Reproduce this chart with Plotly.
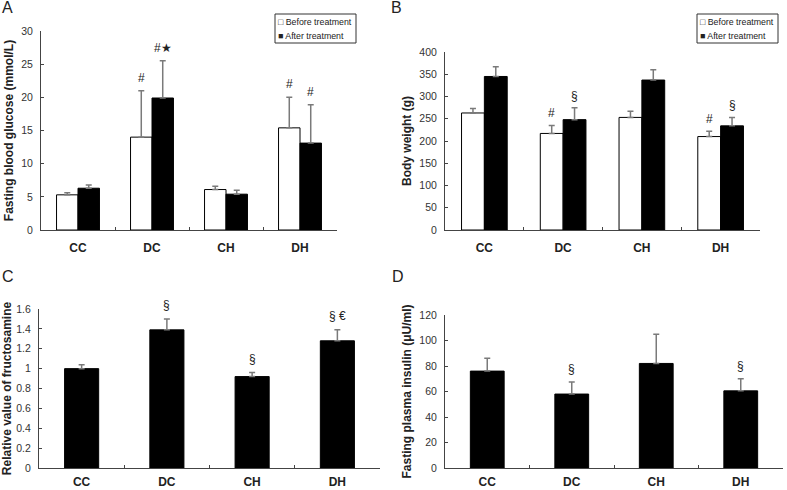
import plotly.graph_objects as go

categories = ["CC", "DC", "CH", "DH"]
legend_labels = ["Before treatment", "After treatment"]

# Panel A: fasting blood glucose (mmol/L)
glucose_before = [5.3, 14.0, 6.1, 15.4]
glucose_before_err = [0.3, 7.0, 0.5, 4.6]
glucose_after = [6.3, 19.9, 5.4, 13.1]
glucose_after_err = [0.5, 5.6, 0.6, 5.8]
glucose_marks_before = ["", "#", "", "#"]
glucose_marks_after = ["", "#★", "", "#"]

# Panel B: body weight (g)
weight_before = [263, 217, 253, 210]
weight_before_err = [10, 18, 14, 12]
weight_after = [345, 248, 337, 234]
weight_after_err = [22, 27, 23, 19]
weight_marks_before = ["", "#", "", "#"]
weight_marks_after = ["", "§", "", "§"]

# Panel C: relative value of fructosamine
fructosamine = [1.00, 1.39, 0.92, 1.28]
fructosamine_err = [0.04, 0.11, 0.04, 0.11]
fructosamine_marks = ["", "§", "§", "§ €"]

# Panel D: fasting plasma insulin (µU/ml)
insulin = [76, 58, 82, 60.5]
insulin_err = [10, 9.5, 23, 9.5]
insulin_marks = ["", "§", "", "§"]

FONT = "Liberation Sans, Arial, sans-serif"
W, H = 787, 490
ERRC = "#7a7a7a"
AXC = "#444444"


def px_x(p):
    return p / W


def px_y(p):
    return 1 - p / H


fig = go.Figure()


def bar(x, y, err, color, name, xa, ya, width=None):
    kw = {}
    if width is not None:
        kw = dict(width=width, offset=-width / 2)
    return go.Bar(
        x=x, y=y, name=name, xaxis=xa, yaxis=ya,
        marker=dict(color=color, line=dict(color="black", width=1)),
        error_y=dict(type="data", array=err, arrayminus=[0] * len(err), symmetric=False,
                     color=ERRC, thickness=1.5, width=3),
        showlegend=False, **kw)


fig.add_trace(bar(categories, glucose_before, glucose_before_err, "white", legend_labels[0], "x", "y"))
fig.add_trace(bar(categories, glucose_after, glucose_after_err, "black", legend_labels[1], "x", "y"))
fig.add_trace(bar(categories, weight_before, weight_before_err, "white", legend_labels[0], "x2", "y2"))
fig.add_trace(bar(categories, weight_after, weight_after_err, "black", legend_labels[1], "x2", "y2"))
fig.add_trace(bar(categories, fructosamine, fructosamine_err, "black", "Fructosamine", "x3", "y3", width=0.4))
fig.add_trace(bar(categories, insulin, insulin_err, "black", "Insulin", "x4", "y4", width=0.4))

annotations = []
shapes = []
BARGAP = 0.42
half = (1 - BARGAP) / 4


def add_marks(marks, vals, errs, offset, xref, yref, shift=13):
    for i, (m, v, e) in enumerate(zip(marks, vals, errs)):
        if m:
            annotations.append(dict(x=i + offset, y=v + e, xref=xref, yref=yref, text=m,
                                    showarrow=False, yshift=shift, yanchor="middle",
                                    font=dict(family=FONT, size=12, color="#222")))


add_marks(glucose_marks_before, glucose_before, glucose_before_err, -half, "x", "y")
add_marks(glucose_marks_after, glucose_after, glucose_after_err, half, "x", "y")
add_marks(weight_marks_before, weight_before, weight_before_err, -half, "x2", "y2", 12)
add_marks(weight_marks_after, weight_after, weight_after_err, half, "x2", "y2", 12)
add_marks(fructosamine_marks, fructosamine, fructosamine_err, 0, "x3", "y3", 14)
add_marks(insulin_marks, insulin, insulin_err, 0, "x4", "y4", 13)

for txt, xp, yp in [("A", 0, 8), ("B", 389, 8), ("C", 0, 276), ("D", 390, 276)]:
    annotations.append(dict(x=px_x(xp), y=px_y(yp), xref="paper", yref="paper", text=txt,
                            showarrow=False, xanchor="left", yanchor="middle",
                            font=dict(family=FONT, size=16, color="#222")))

# legend boxes (drawn as text + frame, as in the original figure)
for x0, x1 in [(275, 356), (697, 778)]:
    shapes.append(dict(type="rect", xref="paper", yref="paper",
                       x0=px_x(x0), x1=px_x(x1), y0=px_y(43), y1=px_y(14),
                       line=dict(color="#333", width=1), fillcolor="white"))
    for sym, lab, yp in [("□", legend_labels[0], 22), ("■", legend_labels[1], 36)]:
        annotations.append(dict(x=px_x(x0 + 1), y=px_y(yp), xref="paper", yref="paper",
                                text=sym + " " + lab, showarrow=False,
                                xanchor="left", yanchor="middle",
                                font=dict(family=FONT, size=8.8, color="#222")))


def xaxis(domain, anchor, standoff):
    return dict(domain=domain, anchor=anchor, type="category", showline=True, linecolor=AXC,
                linewidth=1, ticks="inside", tickson="boundaries", ticklen=3, tickcolor=AXC,
                showgrid=False, zeroline=False, ticklabelstandoff=standoff, automargin=False,
                tickfont=dict(family=FONT, size=12, color="#222", weight="bold"))


def yaxis(domain, anchor, rng, dtick, title, tickvals=None, ticktext=None):
    d = dict(domain=domain, anchor=anchor, range=rng, dtick=dtick, showline=True,
             linecolor=AXC, linewidth=1, ticks="inside", ticklen=3, tickcolor=AXC,
             showgrid=False, zeroline=False, ticklabelstandoff=5, automargin=False,
             tickfont=dict(family=FONT, size=10.5, color="#333"),
             title=dict(text=title, standoff=5,
                        font=dict(family=FONT, size=12, color="#222", weight="bold")))
    if tickvals is not None:
        d.update(tickmode="array", tickvals=tickvals, ticktext=ticktext)
    return d


c_ticks = [0, 0.2, 0.4, 0.6, 0.8, 1.0, 1.2, 1.4, 1.6]
c_text = ["0", "0.2", "0.4", "0.6", "0.8", "1", "1.2", "1.4", "1.6"]

fig.update_layout(
    width=W, height=H, margin=dict(l=0, r=0, t=0, b=0, autoexpand=False),
    paper_bgcolor="white", plot_bgcolor="white",
    barmode="group", bargap=BARGAP, bargroupgap=0,
    font=dict(family=FONT), showlegend=False,
    xaxis=xaxis([px_x(41), px_x(337)], "y", 7),
    yaxis=yaxis([px_y(230), px_y(31)], "x", [0, 30], 5, "Fasting blood glucose (mmol/L)"),
    xaxis2=xaxis([px_x(445), px_x(760)], "y2", 7),
    yaxis2=yaxis([px_y(230), px_y(52)], "x2", [0, 400], 50, "Body weight (g)"),
    xaxis3=xaxis([px_x(39), px_x(380)], "y3", 3),
    yaxis3=yaxis([px_y(468), px_y(309)], "x3", [0, 1.6], 0.2, "Relative value of fructosamine", c_ticks, c_text),
    xaxis4=xaxis([px_x(445), px_x(783)], "y4", 3),
    yaxis4=yaxis([px_y(468), px_y(315)], "x4", [0, 120], 20, "Fasting plasma insulin (μU/ml)"),
    annotations=annotations,
    shapes=shapes,
)

fig.write_html("out.html", config={"displayModeBar": False},
               post_script="document.body.style.margin='0';document.body.style.overflow='hidden';")
